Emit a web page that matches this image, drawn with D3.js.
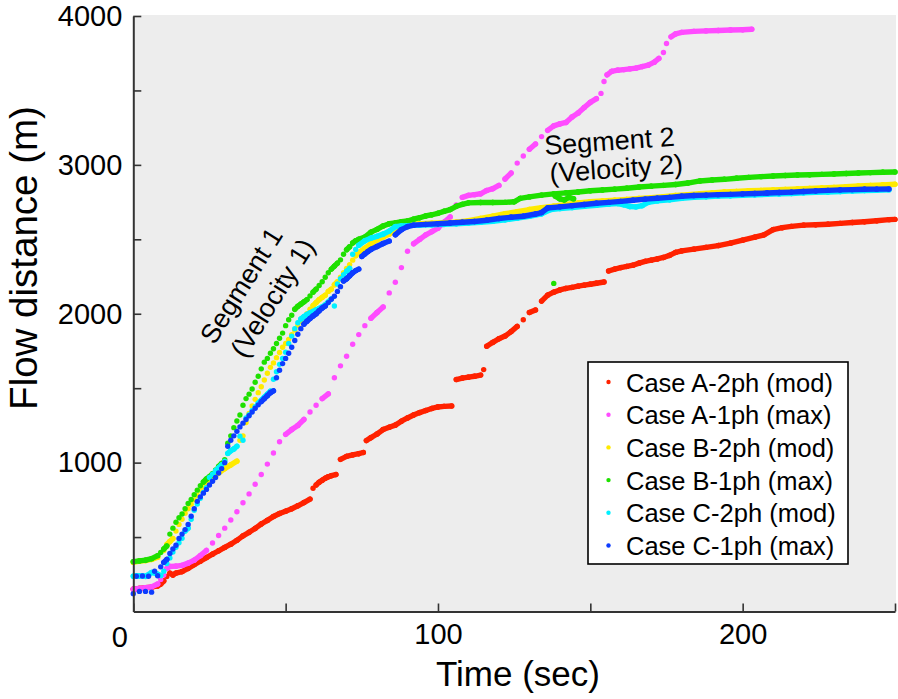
<!DOCTYPE html>
<html><head><meta charset="utf-8">
<script src="https://cdn.jsdelivr.net/npm/d3@7/dist/d3.min.js"></script>
<style>
body{margin:0;background:#fff}
svg{display:block;font-family:"Liberation Sans",Arial,Helvetica,sans-serif}
</style>
</head><body>
<svg id="chart" width="898" height="699"></svg>
<script>
// ---------------- DATA (time in sec, flow distance in m) ----------------
const seriesNames = ["Case A-2ph (mod)","Case A-1ph (max)","Case B-2ph (mod)","Case B-1ph (max)","Case C-2ph (mod)","Case C-1ph (max)"];
const seriesColors = ["#ff2200","#ff4cff","#ffea00","#1ee000","#00f0ff","#0d3cff"];

// Each series is a list of runs of [time, distance] readings
const caseA2ph = [
  [[0,150],[2,155],[4,160],[6,163],[8,172],[9,185],[10,205],[11,235],[12,258],[13,245],[14,258],[16,268],[18,290],[20,315],[22,338],[24,362],[26,385],[28,408],[30,430],[32,452],[34,478],[36,508],[38,532],[40,558],[42,588],[44,612],[46,638],[48,658],[50,674],[52,690],[54,710],[56,732],[58,755]],
  [[59,828],[60,850],[61,868],[62,882],[63,895],[64,905],[65,912],[66.5,920]],
  [[68,1022],[70,1042],[72,1052],[74,1060],[75.5,1068]],
  [[76.5,1148],[78,1168],[80,1192],[82,1222],[84,1238],[86,1252],[88,1278],[90,1300],[92,1320],[94,1336],[96,1350],[98,1364],[100,1374],[102,1378],[104.5,1380]],
  [[106,1558],[108,1568],[110,1574],[112,1580],[114,1588]],
  [[115,1625]],
  [[116,1782],[118,1808],[120,1832],[122,1850],[124,1880],[126,1915],[128,1960],[130,2008],[132,2025],[134,2085],[136,2125],[138,2145],[140,2160],[142,2170],[144,2177],[146,2185],[148,2192],[150,2198],[152,2205],[154.5,2213]],
  [[156,2287],[158,2300],[160,2310],[162,2318],[164,2326],[166,2340],[168,2352],[170,2360],[172,2368],[174,2378],[176,2392],[178,2412],[180,2422],[184,2434],[188,2446],[192,2458],[196,2474],[200,2494],[204,2514],[207,2530],[210,2565],[213,2578],[216,2587],[220,2595],[224,2598],[228,2601],[232,2607],[236,2613],[240,2618],[244,2625],[248,2632],[250,2634]]
];
const caseA1ph = [
  [[0,150],[2,155],[4,160],[6,165],[8,185],[9,215],[10,245],[11,290],[12,302],[14,305],[16,310],[18,325],[20,345],[22,375],[24,410],[26,460],[28,510],[30,560],[32,615],[34,670],[36,730],[38,790],[40,855],[42,920],[44,990],[46,1065],[48,1140],[50,1190],[52,1222],[54,1250],[56,1290],[58,1340],[60,1385],[62,1430],[64,1462],[66,1570],[68,1650],[70,1715],[72,1795],[74,1860],[76,1920],[78,1970],[80,2008],[82,2045],[84,2140],[86,2212],[88,2310],[90,2420],[92,2470],[94,2500],[96,2530],[98,2552],[100,2575],[102,2615],[104,2650],[106,2730],[108,2782],[110,2795],[112,2800],[114,2806],[116,2828],[118,2840],[120,2862],[122,2905],[124,2945],[126,3012],[128,3060],[130,3105],[132,3140],[134,3190],[136,3232],[138,3262],[140,3275],[142,3285],[144,3322],[146,3348],[148,3385],[150,3420],[152,3445],[153.5,3480],[154.5,3560],[155.5,3605],[157,3628],[159,3636],[161,3640],[163,3645],[165,3650],[167,3660],[169,3670],[171,3690],[172.5,3715],[174,3755],[175,3815],[176.5,3860],[178,3880],[180,3890],[184,3897],[188,3900],[192,3903],[196,3906],[200,3908],[203,3911]]
];
const caseB2ph = [
  [[0,330],[2,338],[4,342],[6,350],[8,365],[10,410],[11,450],[12,470],[13,490],[14,540],[15,585],[16,620],[17,660],[18,690],[19,720],[20,750],[21,780],[22,815],[23,840],[24,860],[25,885],[26,900],[28,930],[30,960],[32,985],[34,1010],[35,1150],[36,1180],[37,1270],[38,1330],[39,1380],[40,1425],[41,1470],[42,1510],[43,1555],[44,1600],[45,1640],[46,1670],[47,1705],[48,1740],[49,1775],[50,1800],[51,1828],[52,1860],[53,1890],[54,1920],[55,1950],[56,1975],[57,2000],[58,2030],[59,2055],[60,2075],[61,2095],[62,2110],[63,2125],[64,2150],[65,2165],[66,2195],[67,2215],[68,2245],[69,2275],[70,2305],[71,2330],[72,2360],[73,2390],[74,2410],[76,2440],[78,2470],[80,2495],[82,2515],[84,2535],[86,2565],[88,2590],[90,2600],[94,2605],[98,2608],[102,2612],[106,2615],[110,2625],[114,2640],[118,2655],[122,2672],[126,2685],[130,2700],[134,2712],[138,2722],[142,2735],[146,2745],[150,2752],[154,2758],[158,2763],[162,2768],[166,2774],[170,2780],[174,2787],[178,2794],[182,2800],[186,2806],[190,2812],[194,2818],[198,2822],[202,2826],[206,2829],[210,2832],[214,2835],[218,2838],[222,2841],[226,2845],[230,2849],[234,2853],[238,2858],[242,2862],[246,2866],[250,2870]]
];
const caseB1ph = [
  [[0,335],[2,340],[4,345],[6,355],[8,375],[9,396],[10,420],[11,440],[12,520],[13,560],[14,600],[15,630],[16,655],[17,690],[18,725],[19,752],[20,785],[21,815],[22,845],[23,870],[24,890],[25,905],[26,925],[27,950],[28,975],[29,995],[30,1020],[31,1130],[32,1180],[33,1235],[34,1280],[35,1320],[36,1385],[37,1430],[38,1460],[39,1495],[40,1540],[41,1580],[42,1630],[43,1675],[44,1700],[45,1735],[46,1765],[47,1800],[48,1835],[49,1870],[50,1920],[51,1960],[52,1990],[53,2030],[54,2050],[55,2065],[56,2080],[57,2095],[58,2120],[59,2145],[60,2165],[61,2190],[62,2215],[63,2245],[64,2275],[65,2300],[66,2320],[67,2340],[68,2362],[69,2400],[70,2430],[71,2450],[72,2475],[73,2490],[74,2500],[76,2515],[78,2548],[80,2567],[82,2590],[84,2605],[86,2610],[88,2618],[90,2623],[92,2635],[94,2645],[96,2657],[98,2665],[100,2675],[102,2688],[104,2700],[106,2722],[108,2735],[110,2745],[114,2747],[118,2747],[122,2748],[125,2752],[127,2775],[130,2785],[134,2797],[138,2805],[142,2812],[146,2818],[150,2826],[154,2831],[158,2837],[162,2843],[166,2851],[170,2857],[174,2862],[178,2868],[182,2878],[186,2892],[190,2898],[194,2903],[198,2910],[202,2916],[206,2921],[210,2925],[214,2929],[218,2932],[222,2934],[226,2936],[230,2939],[234,2942],[238,2945],[242,2948],[246,2950],[250,2952]],
  [[138.5,2790],[140,2772],[141.5,2765],[143,2782],[144.5,2772]],
  [[138,2204]]
];
const caseC2ph = [
  [[0,237],[1,240],[2,238],[3,240],[4,236],[6,262],[8,250],[9,242],[10,270],[11,322],[12,360],[13,400],[14,432],[15,462],[16,492],[17,540],[18,560],[19,620],[20,680],[21,722],[22,760],[23,800],[24,832],[25,900],[26,922],[27,945],[28,965],[29,985],[30,1010],[31,1062],[32,1080],[33,1092],[34,1110],[35,1178],[36,1150],[37,1300],[38,1322],[39,1350],[40,1375],[41,1400],[42,1420],[43,1440],[44,1460],[45,1480],[46,1560],[47,1610],[48,1660],[49,1700],[50,1742],[51,1800],[52,1850],[53,1900],[54,1940],[55,1965],[56,1980],[57,1995],[58,2005],[59,2015],[60,2025],[61,2035],[62,2045],[63,2060],[64,2080],[65,2100],[67,2200],[68,2235],[69,2262],[70,2285],[71,2305],[72,2400],[73,2432],[74,2460],[76,2490],[78,2508],[80,2520],[82,2535],[84,2555],[86,2585],[88,2590],[90,2592],[94,2595],[98,2597],[102,2600],[106,2604],[110,2609],[114,2614],[118,2621],[122,2631],[126,2642],[130,2654],[134,2671],[137,2700],[140,2707],[144,2714],[148,2721],[152,2729],[156,2736],[159,2740],[161,2732],[163,2720],[165,2718],[167,2726],[169,2748],[172,2758],[176,2766],[180,2775],[184,2782],[188,2786],[192,2790],[196,2793],[200,2796],[204,2799],[208,2802],[212,2805],[216,2808],[220,2812],[224,2815],[228,2818],[232,2821],[236,2825],[240,2828],[244,2830],[248,2832]],
  [[66,2052]]
];
const caseC1ph = [
  [[0,120],[1,237],[2,135],[3,238],[4,135],[5,237],[6,130],[7,270],[8,240],[9,300],[10,330],[11,350],[12,390],[13,420],[14,445],[15,490],[16,520],[17,550],[18,585],[19,640],[20,690],[21,740],[22,770],[23,795],[24,820],[25,850],[26,875],[27,900],[28,930],[29,960],[30,1000],[31,1110],[32,1150],[33,1180],[34,1210],[35,1240],[36,1265],[37,1290],[38,1315],[39,1340],[40,1365],[41,1388],[42,1410],[43,1430],[44,1450],[45,1470],[46,1482],[47,1570],[48,1620],[49,1665],[50,1700],[51,1735],[52,1775],[53,1820],[54,1862],[55,1900],[56,1930],[57,1950],[58,1968],[59,1985],[60,2000],[61,2020],[62,2038],[63,2052],[64,2075],[65,2097],[66,2118],[67,2150],[68,2182],[69,2220],[70,2235],[71,2255],[72,2275],[73,2290],[74,2300],[75,2385],[76,2402],[77,2418],[78,2432],[80,2452],[82,2472],[84,2488],[86,2530],[88,2565],[90,2585],[92,2595],[96,2600],[100,2605],[104,2610],[108,2615],[112,2620],[116,2628],[120,2640],[124,2648],[128,2655],[132,2670],[134,2680],[136,2710],[140,2718],[144,2726],[148,2734],[152,2742],[156,2748],[160,2755],[164,2762],[168,2770],[172,2776],[176,2782],[180,2789],[184,2794],[188,2797],[192,2800],[196,2802],[200,2805],[204,2808],[208,2811],[212,2814],[216,2817],[220,2821],[224,2825],[228,2829],[232,2832],[236,2834],[240,2836],[244,2837],[248,2838]]
];

const xTickValues = [0,50,100,150,200,250];
const xTickLabels = ["0","","100","","200",""];
const yTickValues = [500,1000,1500,2000,2500,3000,3500,4000];
const yTickLabels = ["","1000","","2000","","3000","","4000"];
const xTitle = "Time (sec)";
const yTitle = "Flow distance (m)";
const annotation1 = ["Segment 1","(Velocity 1)"];
const annotation2 = ["Segment 2","(Velocity 2)"];

// ---------------- DRAWING ----------------
const svg = d3.select("#chart");
const x = d3.scaleLinear().domain([0,250]).range([133.3,895]);
const y = d3.scaleLinear().domain([0,4000]).range([611.5,16]);

svg.append("rect").attr("x",133).attr("y",15).attr("width",763).attr("height",597).attr("fill","#ededed");

const allSeries = [caseA2ph, caseA1ph, caseB2ph, caseB1ph, caseC2ph, caseC1ph];
const R = 2.7;
allSeries.forEach((runs, i) => {
  const col = seriesColors[i];
  const g = svg.append("g");
  runs.forEach(run => {
    for (let k = 1; k < run.length; k++) {
      const x0 = x(run[k-1][0]), y0 = y(run[k-1][1]);
      const x1 = x(run[k][0]), y1 = y(run[k][1]);
      const dx = x1 - x0, dy = Math.abs(y1 - y0);
      if (Math.hypot(dx, dy) <= 14 && dy <= dx * 1.0) {
        g.append("line").attr("x1",x0).attr("y1",y0).attr("x2",x1).attr("y2",y1)
          .attr("stroke",col).attr("stroke-width",R*2).attr("stroke-linecap","round");
      }
    }
    g.selectAll(null).data(run).join("circle")
      .attr("cx", d => x(d[0])).attr("cy", d => y(d[1])).attr("r", R).attr("fill", col);
  });
});

// axes
const axisColor = "#333";
const xAxis = d3.axisBottom(x).tickValues(xTickValues).tickFormat((d,i)=>xTickLabels[i])
  .tickSizeInner(-8).tickSizeOuter(0).tickPadding(12);
const gx = svg.append("g").attr("transform","translate(0,611.5)").call(xAxis);
const yAxis = d3.axisLeft(y).tickValues(yTickValues).tickFormat((d,i)=>yTickLabels[i])
  .tickSizeInner(-8).tickSizeOuter(0).tickPadding(11);
const gy = svg.append("g").attr("transform","translate(133.3,0)").call(yAxis);
[gx, gy].forEach(g => {
  g.select(".domain").attr("stroke",axisColor).attr("stroke-width",2);
  g.selectAll(".tick line").attr("stroke",axisColor).attr("stroke-width",1.6);
  g.selectAll(".tick text").attr("font-size",29).attr("fill","#000")
    .attr("font-family",'"Liberation Sans",Arial,sans-serif');
});
gx.selectAll(".tick text").filter(d => d === 0).attr("x",-14).attr("dy","0.82em");

// axis titles
svg.append("text").attr("x",518).attr("y",686).attr("text-anchor","middle")
  .attr("font-size",35).attr("fill","#000").text(xTitle);
svg.append("text").attr("transform","translate(37,258) rotate(-90)").attr("text-anchor","middle")
  .attr("font-size",38.5).attr("fill","#000").text(yTitle);

// annotations
const a1 = svg.append("text").attr("transform","translate(257,293) rotate(-58)")
  .attr("text-anchor","middle").attr("font-size",27).attr("fill","#000");
a1.append("tspan").attr("x",-2).attr("y",-8).text(annotation1[0]);
a1.append("tspan").attr("x",4).attr("y",25).text(annotation1[1]);
const a2 = svg.append("text").attr("transform","translate(613,164) rotate(-4)")
  .attr("text-anchor","middle").attr("font-size",27).attr("fill","#000");
a2.append("tspan").attr("x",-2).attr("y",-14).text(annotation2[0]);
a2.append("tspan").attr("x",3).attr("y",14).text(annotation2[1]);

// legend
const lg = svg.append("g");
lg.append("rect").attr("x",588).attr("y",362).attr("width",260).attr("height",202)
  .attr("fill","#fff").attr("stroke","#000").attr("stroke-width",1.6);
seriesNames.forEach((name, i) => {
  const by = 391.5 + i * 32.7;
  lg.append("circle").attr("cx",608.5).attr("cy",by - 9.5).attr("r",2.2).attr("fill",seriesColors[i]);
  lg.append("text").attr("x",626).attr("y",by).attr("font-size",25.5).attr("fill","#000").text(name);
});
</script>
</body></html>
